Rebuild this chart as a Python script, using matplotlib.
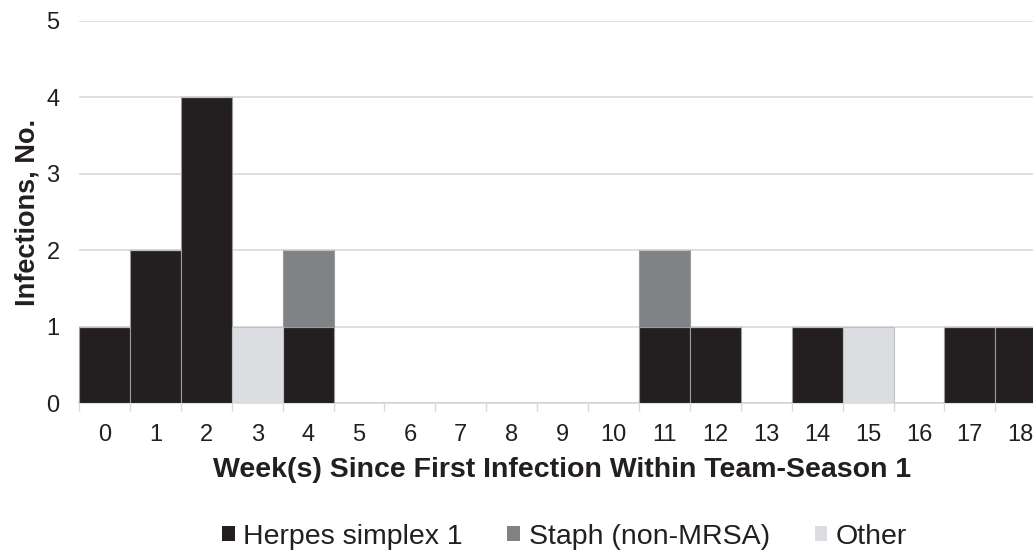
import matplotlib.pyplot as plt
import numpy as np
from matplotlib.patches import Patch

plt.rcParams['font.family'] = ['Liberation Sans', 'DejaVu Sans']

weeks = list(range(19))
herpes = [1, 2, 4, 0, 1, 0, 0, 0, 0, 0, 0, 1, 1, 0, 1, 0, 0, 1, 1]
staph = [0, 0, 0, 0, 1, 0, 0, 0, 0, 0, 0, 1, 0, 0, 0, 0, 0, 0, 0]
other = [0, 0, 0, 1, 0, 0, 0, 0, 0, 0, 0, 0, 0, 0, 0, 1, 0, 0, 0]
labels = ['Herpes simplex 1', 'Staph (non-MRSA)', 'Other']
colors = ['#231f20', '#808285', '#dcdde0']

fig = plt.figure(figsize=(10.33, 5.51), dpi=100)
ax = fig.add_axes([0.0765, 0.2686, 0.9235, 0.6933])

x = np.array(weeks)
h = np.array(herpes)
s = np.array(staph)
o = np.array(other)
ew = 0.8
ax.bar(x, h, width=1.0, color=colors[0], edgecolor='#9a9a9a', linewidth=ew, zorder=3)
ax.bar(x, s, width=1.0, bottom=h, color=colors[1], edgecolor='#9a9a9a', linewidth=ew, zorder=3)
ax.bar(x, o, width=1.0, bottom=h + s, color=colors[2], edgecolor='#c0c0c0', linewidth=ew, zorder=3)

ax.set_yticks(range(6))
ax.set_xticks(x)
ax.set_xticklabels([str(w) for w in weeks])
ax.set_xticks(np.arange(-0.5, 19, 1), minor=True)
# set limits after the ticks, otherwise set_xticks widens the view
ax.set_xlim(-0.5, 18.24)
ax.set_ylim(0, 5)
ax.tick_params(axis='x', which='major', length=0, labelsize=17, pad=15, colors='#231f20')
ax.tick_params(axis='x', which='minor', length=6, width=1, color='#d9d9d9')
ax.tick_params(axis='y', length=0, labelsize=17, pad=14, colors='#231f20')
ax.yaxis.grid(True, color='#d9d9d9', linewidth=1.2, zorder=0)
for sp in ['top', 'right', 'left']:
    ax.spines[sp].set_visible(False)
ax.spines['bottom'].set_color('#d9d9d9')
ax.spines['bottom'].set_linewidth(1.2)

ax.set_xlabel('Week(s) Since First Infection Within Team-Season 1', fontsize=20.5,
              fontweight='bold', color='#231f20')
# the original plot area runs past the right edge, so the title sits a bit right of centre
ax.xaxis.set_label_coords(0.5063, -0.142)
ax.set_ylabel('Infections, No.', fontsize=19.5, fontweight='bold', color='#231f20', labelpad=4)

handles = [Patch(facecolor=c, edgecolor='none') for c in colors]
fig.legend(handles, labels, loc='center', bbox_to_anchor=(0.5465, 0.026), ncol=3,
           frameon=False, fontsize=20.5, handlelength=0.45, handleheight=0.45,
           handletextpad=0.3, columnspacing=1.57, labelcolor='#231f20')

fig.savefig('out.png', dpi=100)
